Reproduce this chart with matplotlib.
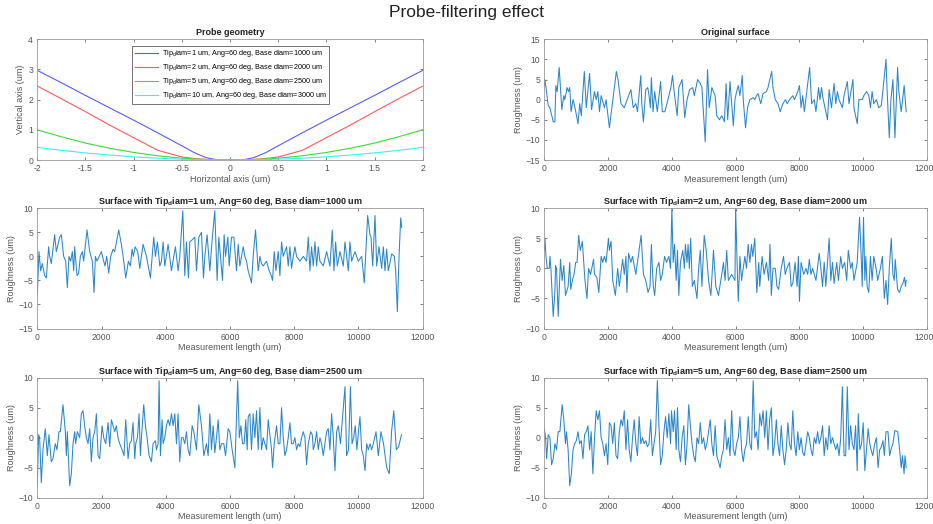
import matplotlib
matplotlib.use("Agg")
import matplotlib.pyplot as plt

plt.rcParams['font.family'] = ['Liberation Sans', 'DejaVu Sans']
plt.rcParams['mathtext.fontset'] = 'custom'
plt.rcParams['mathtext.rm'] = 'Liberation Sans'
plt.rcParams['mathtext.bf'] = 'Liberation Sans:bold'

# ---------------- Probe geometry ----------------
probe_x = [-2, -1.75, -1.5, -1.25, -1, -0.75, -0.5, -0.375, -0.25, -0.125, 0,
           0.125, 0.25, 0.375, 0.5, 0.75, 1, 1.25, 1.5, 1.75, 2]
probe_tip1 = [2.97, 2.56, 2.14, 1.73, 1.32, 0.90, 0.47, 0.25, 0.08, 0.0, 0.0,
              0.0, 0.08, 0.25, 0.47, 0.90, 1.32, 1.73, 2.14, 2.56, 2.97]
probe_tip2 = [2.45, 2.03, 1.60, 1.16, 0.74, 0.32, 0.10, 0.05, 0.02, 0.0, 0.0,
              0.0, 0.02, 0.05, 0.10, 0.32, 0.74, 1.16, 1.60, 2.03, 2.45]
probe_tip5 = [1.0, 0.77, 0.56, 0.39, 0.25, 0.14, 0.06, 0.035, 0.016, 0.004, 0.0,
              0.004, 0.016, 0.035, 0.06, 0.14, 0.25, 0.39, 0.56, 0.77, 1.0]
probe_tip10 = [0.42, 0.32, 0.235, 0.165, 0.105, 0.06, 0.027, 0.015, 0.007, 0.002, 0.0,
               0.002, 0.007, 0.015, 0.027, 0.06, 0.105, 0.165, 0.235, 0.32, 0.42]
probe_labels = ["Tip$_{\\mathrm{d}}$iam=1 um, Ang=60 deg, Base diam=1000 um",
                "Tip$_{\\mathrm{d}}$iam=2 um, Ang=60 deg, Base diam=2000 um",
                "Tip$_{\\mathrm{d}}$iam=5 um, Ang=60 deg, Base diam=2500 um",
                "Tip$_{\\mathrm{d}}$iam=10 um, Ang=60 deg, Base diam=3000 um"]
probe_colors = ['#5a5aff', '#ff5a5a', '#3fd83f', '#3ceeee']

# ---------------- Original surface ----------------
orig_x = [0, 20, 124, 176, 280, 332, 363, 404, 467, 550, 612, 643, 716, 757, 798, 840, 902, 964,
          1058, 1110, 1161, 1255, 1317, 1421, 1483, 1576, 1628, 1680, 1732, 1784, 1887, 1939,
          2043, 2261, 2313, 2406, 2510, 2717, 2790, 2872, 2924, 3028, 3059, 3111, 3184, 3246,
          3287, 3329, 3360, 3412, 3464, 3547, 3650, 3702, 3785, 3909, 3972, 4024, 4075, 4169,
          4221, 4324, 4407, 4480, 4563, 4656, 4708, 4812, 4894, 4946, 5050, 5123, 5175, 5258,
          5361, 5413, 5496, 5569, 5652, 5704, 5755, 5828, 5932, 5983, 6035, 6087, 6139, 6212,
          6243, 6315, 6378, 6450, 6554, 6606, 6658, 6709, 6792, 6865, 6969, 7020, 7135, 7176,
          7249, 7332, 7404, 7487, 7570, 7622, 7694, 7798, 7850, 7954, 8006, 8058, 8109, 8161,
          8327, 8389, 8472, 8524, 8607, 8649, 8700, 8742, 8887, 8939, 9011, 9094, 9146, 9198,
          9250, 9354, 9406, 9509, 9561, 9686, 9717, 9820, 9872, 9976, 10028, 10111, 10183,
          10235, 10287, 10339, 10422, 10494, 10577, 10723, 10754, 10826, 10878, 10940, 11003,
          11086, 11127, 11200, 11293, 11355]
orig_y = [3.5, 5, -1.5, -2, -5.5, -5.5, 3.5, 2, 8, -2.5, 1, 0, 3, 2, 3, -3, 0, -2,
          -6, -1, -4, 7, -2, 6.5, -2.5, 2, 0, 2, -3, 1, -2, 0,
          -7, 7, 5, -1, -2, 2.5, -2, -1, -3, 6, -1, -5.5, 2.5, 3,
          1, -2, 5.5, -3, 2, -3, 4.5, -3, -3, 1, 3, 6, 2, -4,
          3, 5, -4.5, 0, 2.5, 3, 1, 5, 4, 3, -10.5, 7.5, -2, 3,
          1, -4, -5, -4, -5.5, 4, -5, 4.5, -6.5, 0, 2, 3.5, 1, 6,
          0, -7, -2, 0, 0.5, 0, 1, 1.5, -1, 1.5, 2, 3, 7, 3,
          0, -1, -3, -1, 0, -1, 0, 1, 0, 2, 3.5, -2, 1, -3,
          8, -1, 0, -3, 3, 0, 3, 0.5, -5, 2.5, -2, 4, -1, 2,
          0, -2, 1, 4.5, -1, 5, -2, -6, 0, 0, 1, 2, 1,
          -2, 2, -1, 0, -2, -1.5, 10, 3, -9.5, 0, 5, -9.5,
          8, 2, -3, 3.5, -3]

# ---------------- Tip 1 um ----------------
tip1_x = [0, 52, 104, 156, 229, 281, 353, 384, 436, 540, 592, 696, 748, 821, 883, 935, 987,
          1039, 1091, 1133, 1164, 1236, 1288, 1340, 1403, 1444, 1548, 1631, 1714, 1766, 1808,
          1860, 1995, 2047, 2109, 2161, 2223, 2286, 2359, 2410, 2535, 2618, 2691, 2753, 2836,
          2899, 2951, 2992, 3044, 3127, 3190, 3294, 3398, 3522, 3626, 3678, 3740, 3813, 3865,
          3917, 3969, 4073, 4177, 4301, 4385, 4437, 4530, 4592, 4644, 4707, 4748, 4831, 4904,
          4956, 5029, 5112, 5174, 5216, 5288, 5372, 5444, 5527, 5600, 5652, 5704, 5766, 5818,
          5860, 5933, 5974, 6047, 6120, 6203, 6255, 6307, 6411, 6463, 6515, 6566, 6670, 6722,
          6795, 6878, 6930, 6982, 7034, 7138, 7221, 7283, 7325, 7377, 7429, 7502, 7554, 7606,
          7657, 7761, 7813, 7865, 7917, 7969, 8021, 8073, 8177, 8281, 8385, 8437, 8489, 8541,
          8593, 8645, 8697, 8748, 8800, 8904, 9008, 9112, 9185, 9237, 9289, 9341, 9424, 9528,
          9580, 9683, 9735, 9787, 9891, 9995, 10099, 10182, 10286, 10359, 10390, 10442, 10515,
          10567, 10639, 10722, 10774, 10826, 10878, 10930, 11034, 11117, 11159, 11211, 11263,
          11315, 11346]
tip1_y = [-8, 1, -3, -1.5, -4, -4.5, 2, 0, -1.5, 4.5, 1, 4, 4.5, 0, -1, -6.5, 0,
          -1, 1, -3, 2, -4, -3.5, 0, 1, -1, 5.5, 1, -1, -7.5, 0,
          -1, 1, -0.5, -2, 0, -3.5, 0, 1.5, 1, 5.5, 2.5, -1, -4.5, -1,
          -2, 1.5, 0, 2, 1, -2.5, 2.5, 0, -4.5, 4, 0, 3, -2, -1,
          3, -2, 2.5, -3, 2, -3, 0, 9.5, -4, 3, -4.5, 3, 3.5, 4,
          -3, 4, 5, -4.5, 0, 4.5, -3, 3.5, 9.5, -5, 4, 0, -5, 4.5,
          0, 4, -2, 4, 4, -3, 2.5, -2, 2, 0, -1, -3, -5.5, 0,
          5.5, -3, 0, -1.5, -2, -1, -3, -4, -5, 1, -3, 1, -4, 3,
          0, 2, -2, 2, -2.5, 0, 2, 0, -1, 0, -1, 4, -3, 2,
          -2, 3, -2, 2, -1, -2, 1, -2, 5.5, -3, 3, -2, 1, -2,
          3, -3, 3, -1, 1, -1, 0, -5.5, 8.5, 4.5, 4, -2, 8.5,
          -2, 2, -2.5, 2, -3, 1.5, -3, 0.5, 0, -3, -11.5, 0,
          8, 6]

# ---------------- Tip 2 um ----------------
tip2_x = [0, 21, 52, 93, 156, 176, 207, 280, 332, 353, 384, 436, 508, 560, 612, 664, 747, 798,
          830, 882, 933, 985, 1027, 1079, 1130, 1193, 1276, 1338, 1390, 1452, 1545, 1576, 1649,
          1711, 1784, 1835, 1887, 1939, 2012, 2043, 2095, 2147, 2230, 2302, 2354, 2458, 2510,
          2561, 2592, 2644, 2717, 2769, 2872, 2924, 3038, 3111, 3184, 3256, 3318, 3360, 3391,
          3422, 3464, 3526, 3598, 3650, 3702, 3775, 3837, 3909, 3961, 4003, 4044, 4086, 4138,
          4179, 4221, 4272, 4345, 4397, 4428, 4480, 4511, 4552, 4593, 4645, 4708, 4791, 4843,
          4894, 4946, 5019, 5081, 5154, 5227, 5309, 5382, 5465, 5569, 5621, 5672, 5724, 5776,
          5880, 5983, 6004, 6045, 6087, 6139, 6191, 6243, 6294, 6346, 6398, 6450, 6502, 6543,
          6605, 6668, 6730, 6761, 6834, 6896, 6969, 7041, 7082, 7124, 7176, 7249, 7300, 7352,
          7435, 7508, 7560, 7611, 7694, 7746, 7798, 7871, 7933, 7974, 8006, 8058, 8141, 8213,
          8265, 8317, 8369, 8420, 8524, 8628, 8680, 8731, 8783, 8835, 8939, 8991, 9043, 9094,
          9177, 9229, 9302, 9354, 9426, 9489, 9540, 9613, 9665, 9717, 9820, 9892, 9945, 9976,
          10017, 10059, 10090, 10131, 10183, 10235, 10287, 10339, 10411, 10463, 10546, 10609,
          10671, 10723, 10774, 10826, 10888, 10940, 10982, 11013, 11086, 11148, 11200, 11251,
          11303, 11335, 11355]
tip2_y = [3, 5, 2, 0, 0, 2, 0, -8, -4, 0.5, 0, -8, 1.5, -2, 0.5, -4.5, -3, 1,
          -3.5, -2, -1, 1, 1, 5.5, 3, 4.5, -2, -5, 0, -1, 1.5, -1, -1.5,
          -4, 2, 1, 2, 1, 5, 3, 4.5, -2, -4.5, 0, -3, 1.5, -1,
          2, -4, 2.5, 1, 2, -1, 1, 5.5, -1, -2, -4, -3, 4, 0,
          -3, -4.5, 0, 1, -2, -1, 2, 1, 2, 0, 10, 1, 4, -2,
          3, -4.5, 1, 3, 0, 4, 1, 4, 0, 5, -3, -2, -5, 0,
          3, -3, 5.5, 3, -2, -4.5, 3, -3, -4.5, -1, 1, -2, 3, -2,
          -1, -2, 10, 2, -5.5, 2, -2, 0, 2, 0, 4, 1, 4, 2,
          5, -4, 1, -3, 2, -1, 1, -2, 4, -4.5, 0, 0, -3, -3.5,
          0, 2, -1, 0, 1, -3, -2.5, 1, -3, 2, -5.5, 1, -1, 0,
          -1, 1.5, -1, 0, -2, 2.5, 0, -3, 1, -3, 5, -2, 1, -2.5,
          1, -2, 2, 0, 1, -2, 3, 0, 1, -2, 1, 8.5, 2, -3,
          8.5, -2, 2, -3, -4, 2, -2, 2, 0, -2, 0, 2,
          -5, -2, -6, 0, 5, -1, -2, 1.5, -3.5, -4, -3, -2.5,
          -1.5, -3, -2]

# ---------------- Tip 5 um (left) ----------------
tip5a_x = [0, 42, 73, 125, 177, 249, 312, 364, 436, 488, 561, 613, 675, 717, 800, 873, 904, 935,
           1008, 1060, 1112, 1164, 1195, 1247, 1320, 1371, 1423, 1475, 1527, 1579, 1631, 1683,
           1735, 1787, 1839, 1891, 1943, 2016, 2068, 2130, 2172, 2203, 2255, 2307, 2359, 2411,
           2462, 2514, 2566, 2639, 2701, 2753, 2826, 2878, 2930, 2982, 3034, 3065, 3117, 3169,
           3210, 3242, 3314, 3366, 3418, 3481, 3553, 3605, 3678, 3709, 3761, 3792, 3834, 3886,
           3917, 3969, 4021, 4073, 4125, 4177, 4229, 4281, 4333, 4384, 4436, 4488, 4540, 4592,
           4644, 4696, 4748, 4821, 4873, 4956, 5029, 5112, 5185, 5268, 5320, 5372, 5423, 5475,
           5527, 5579, 5631, 5683, 5735, 5808, 5860, 5943, 5995, 6067, 6151, 6240, 6290, 6340,
           6390, 6440, 6490, 6535, 6567, 6618, 6670, 6722, 6774, 6826, 6878, 6930, 6982, 7034,
           7086, 7138, 7190, 7241, 7293, 7325, 7377, 7450, 7502, 7554, 7606, 7657, 7709, 7761,
           7813, 7865, 7917, 7969, 8021, 8073, 8125, 8177, 8229, 8281, 8333, 8385, 8437, 8510,
           8562, 8593, 8645, 8697, 8748, 8800, 8852, 8904, 8956, 9008, 9060, 9112, 9164, 9216,
           9268, 9320, 9372, 9440, 9580, 9630, 9690, 9750, 9800, 9850, 9900, 9950, 10000,
           10047, 10099, 10151, 10203, 10255, 10307, 10359, 10411, 10463, 10546, 10619, 10700,
           10780, 10880, 10960, 11030, 11100, 11180, 11250, 11340]
tip5a_y = [-8, 0.5, 0, -7.5, -2, 1.5, -3, 0.5, -4, -3.5, -1, -2, 1, 1, 5.5, 1, -3, 1,
           -8, -6, -1, 1, -1, 1, 0, 4, 4.5, 2, 0, -1, 1.5, -4,
           0, 1, 4, -3, -3.5, 2, 0, -1, 1, 2.5, -1.5, 3, 2, 1,
           2, 0, -1, -2, -3, 3, -3.5, -1, -0.5, 2.5, -3.5, -1, 0, 4,
           -3, 0, 5.5, 2, 0, -3, -4, -1, -0.5, -2, -1, 9.5, -3, 3,
           -1, 0, 2, 3, 2, 4, 2, 4, -1, 4, -4, 0, 0, -1,
           1, -2, -3, 2, 1, -2, 5.5, 2, -3, -1, -3, 4, -2, 2,
           -2.5, 0, 3, -2, -1, -1, -3, 1.5, 1, -2, -5, 9.5, 0, 2,
           -1, -1, 3, -2, 3.5, 4, -2, 4, 0, 4.5, -2, 5, -2, 0,
           -1, -2, 3, 0.5, -2, -5, -1, 2, -1, -1, 5, 0, -3, -2,
           0, 2.5, -1, -1, 0, -2, -1, -1.5, 0, 1, 0, -4.5, -1, 1,
           0.5, -2, -1, 1, -2, 0, -1, -3, -1, 1, 1.5, -2, 4, 0,
           -5.5, 1, 2, -1, 8.5, -3, -2, 8.5, -1, 0, 2, -2, 1,
           3.5, -2, -3, -5.5, -1, -2, -1, -2, -1, 1, -3, 1,
           -1, -5, -6, 1, 4.5, -2, -1.5, 0.5]

# ---------------- Tip 5 um (right) ----------------
tip5b_x = [0, 41, 73, 124, 176, 228, 280, 332, 384, 436, 488, 560, 612, 664, 695, 747, 798, 850,
           902, 954, 1005, 1057, 1109, 1161, 1213, 1265, 1317, 1369, 1421, 1472, 1524, 1576,
           1628, 1680, 1732, 1783, 1835, 1887, 1939, 1991, 2043, 2095, 2147, 2198, 2250, 2302,
           2354, 2406, 2458, 2510, 2562, 2613, 2665, 2717, 2769, 2821, 2873, 2924, 2976, 3028,
           3080, 3132, 3184, 3235, 3287, 3339, 3391, 3443, 3495, 3547, 3598, 3650, 3702, 3754,
           3806, 3858, 3909, 3961, 3992, 4044, 4086, 4138, 4180, 4221, 4273, 4325, 4377, 4428,
           4480, 4532, 4584, 4636, 4688, 4739, 4791, 4843, 4895, 4947, 4998, 5050, 5102, 5154,
           5206, 5257, 5309, 5361, 5413, 5465, 5517, 5569, 5620, 5672, 5724, 5776, 5828, 5880,
           5932, 5983, 6035, 6087, 6139, 6191, 6243, 6295, 6347, 6399, 6450, 6502, 6554, 6606,
           6658, 6710, 6761, 6813, 6865, 6917, 6969, 7020, 7072, 7124, 7176, 7228, 7280, 7331,
           7383, 7435, 7487, 7539, 7591, 7643, 7694, 7746, 7798, 7850, 7902, 7954, 8006, 8058,
           8109, 8161, 8213, 8265, 8317, 8369, 8420, 8472, 8524, 8576, 8628, 8680, 8732, 8784,
           8835, 8887, 8939, 8991, 9043, 9095, 9147, 9198, 9250, 9302, 9354, 9406, 9457, 9509,
           9561, 9613, 9665, 9717, 9768, 9820, 9852, 9903, 9955, 10007, 10058, 10110, 10162,
           10214, 10255, 10307, 10370, 10422, 10473, 10525, 10577, 10629, 10671, 10723, 10785,
           10837, 10878, 10940, 11000, 11090, 11150, 11200, 11240, 11290, 11320, 11355]
tip5b_y = [1.5, 0, -3.5, 0.5, 0, -4.5, -3.5, -1, -2, 1, 1, 5.5, 3, -1, 1, -2, -8, -6,
           -2, -1, -0.5, 1, -1, -0.5, -3.5, 0.5, 1, 2, -2, 1, -6, 0,
           4.5, 3, 4.5, 0, -1, -3, -1, -4.5, 2.5, 2, -1, 2.5, -3, -3.5,
           1, 3, 2, 4.5, -2, 3, -2, -4, 0, 3, -1, -3, 3.5, -1,
           0, -1, -0.5, -1.5, -1, 3, -3, -1, 1, 9.5, 2, -4.5, -3, 1,
           3.5, 0, 4, -1, 4.5, 1, 4.5, -2, 5, -2, -4, 0, 2, -4.5,
           -1, 5.5, 2, -1, -3, -4, 0, -1, 2.5, -1, 0, -2, -1, 1,
           3, -1, -3, 2, -3, -4, -5, -3, -2, 3, -2, 0, -3, 4.5,
           -2, -3, -1, 0, 3.5, -2, -4, -2, -1, 3.5, -1, -2, 9.5, 0,
           1, -2, 4, 2, 4.5, 0, 4.5, -2, 3, 5, -3, -1, 3, -1,
           -3, 2, -2, -4.5, -2, 2.5, -1, -2, 4.5, -1, -3, 1, -2, 0,
           -2.5, -3, -1, 1, 0, -2, -3, 0, -1, 1, -1, 0, 2, -3,
           0, -2, 2, -1, 0, -1, -2, -1, -3, 0, 8.5, -3, -3, 8.5,
           -2, 2, -1, -2, 2, -5.5, 4, -2, -1, 2.5, -5.5, -2, 1.5,
           -1, -2, -3, -1, 0, -5, -2, -1.5, -0.5, -3, 1, 1,
           -3, -2, -1, 1.2, 1, -2, -5, -3, -6, -3, -5]

surf_title_1 = "Surface with Tip$_{\\mathbf{d}}$iam=1 um, Ang=60 deg, Base diam=1000 um"
surf_title_2 = "Surface with Tip$_{\\mathbf{d}}$iam=2 um, Ang=60 deg, Base diam=2000 um"
surf_title_5 = "Surface with Tip$_{\\mathbf{d}}$iam=5 um, Ang=60 deg, Base diam=2500 um"

LINE = '#2a86c8'
AXC = '#4d4d4d'
W, H = 933, 524

fig = plt.figure(figsize=(W / 100, H / 100), dpi=100)


def mk(left_px, top_px, right_px, bottom_px):
    return fig.add_axes([left_px / W, 1 - bottom_px / H,
                         (right_px - left_px) / W, (bottom_px - top_px) / H])


def style(ax):
    for s in ax.spines.values():
        s.set_color('#9a9a9a')
        s.set_linewidth(0.6)
    ax.tick_params(direction='in', length=2.5, width=0.5, colors=AXC,
                   labelsize=6.2, top=True, right=True, pad=3)
    for t in ax.get_xticklabels() + ax.get_yticklabels():
        t.set_color('#555555')


LX0, LX1 = 37.3, 422.7
RX0, RX1 = 544.3, 926.7
rows = [(39.3, 160.0), (208.3, 328.5), (377.7, 497.7)]

# Probe geometry
ax = mk(LX0, rows[0][0], LX1, rows[0][1])
for ys, lab, c in zip([probe_tip1, probe_tip2, probe_tip5, probe_tip10], probe_labels, probe_colors):
    ax.plot(probe_x, ys, color=c, lw=0.8, label=lab)
ax.set_xlim(-2, 2)
ax.set_ylim(0, 4)
ax.set_xticks([-2, -1.5, -1, -0.5, 0, 0.5, 1, 1.5, 2])
ax.set_xticklabels(['-2', '-1.5', '-1', '-0.5', '0', '0.5', '1', '1.5', '2'])
ax.set_yticks([0, 1, 2, 3, 4])
ax.set_title('Probe geometry', fontsize=6.5, fontweight='bold', pad=3, color='#222222')
ax.set_xlabel('Horizontal axis (um)', fontsize=6.5, color='#555555', labelpad=1)
ax.set_ylabel('Vertical axis (um)', fontsize=6.5, color='#555555', labelpad=2)
leg = ax.legend(loc='upper left', bbox_to_anchor=(0.247, 0.945), fontsize=5.2, frameon=True,
                fancybox=False, borderpad=0.35, handlelength=3.2, handletextpad=0.5,
                labelspacing=0.4, borderaxespad=0)
leg.get_frame().set_edgecolor('#333333')
leg.get_frame().set_linewidth(0.6)
style(ax)


def surf(ax, xs, ys, title, ylim, yticks):
    ax.plot(xs, ys, color=LINE, lw=0.75)
    ax.set_xlim(0, 12000)
    ax.set_ylim(*ylim)
    ax.set_xticks([0, 2000, 4000, 6000, 8000, 10000, 12000])
    ax.set_yticks(yticks)
    ax.set_title(title, fontsize=6.5, fontweight='bold', pad=3, color='#222222')
    ax.set_xlabel('Measurement length (um)', fontsize=6.5, color='#555555', labelpad=1)
    ax.set_ylabel('Roughness (um)', fontsize=6.5, color='#555555', labelpad=2)
    style(ax)


surf(mk(RX0, rows[0][0], RX1, rows[0][1]), orig_x, orig_y, 'Original surface',
     (-15, 15), [-15, -10, -5, 0, 5, 10, 15])
surf(mk(LX0, rows[1][0], LX1, rows[1][1]), tip1_x, tip1_y, surf_title_1,
     (-15, 10), [-15, -10, -5, 0, 5, 10])
surf(mk(RX0, rows[1][0], RX1, rows[1][1]), tip2_x, tip2_y, surf_title_2,
     (-10, 10), [-10, -5, 0, 5, 10])
surf(mk(LX0, rows[2][0], LX1, rows[2][1]), tip5a_x, tip5a_y, surf_title_5,
     (-10, 10), [-10, -5, 0, 5, 10])
surf(mk(RX0, rows[2][0], RX1, rows[2][1]), tip5b_x, tip5b_y, surf_title_5,
     (-10, 10), [-10, -5, 0, 5, 10])

fig.suptitle('Probe-filtering effect', fontsize=12.5, y=1 - 13 / H, va='center', color='#222222')

fig.savefig('out.png', dpi=100)
